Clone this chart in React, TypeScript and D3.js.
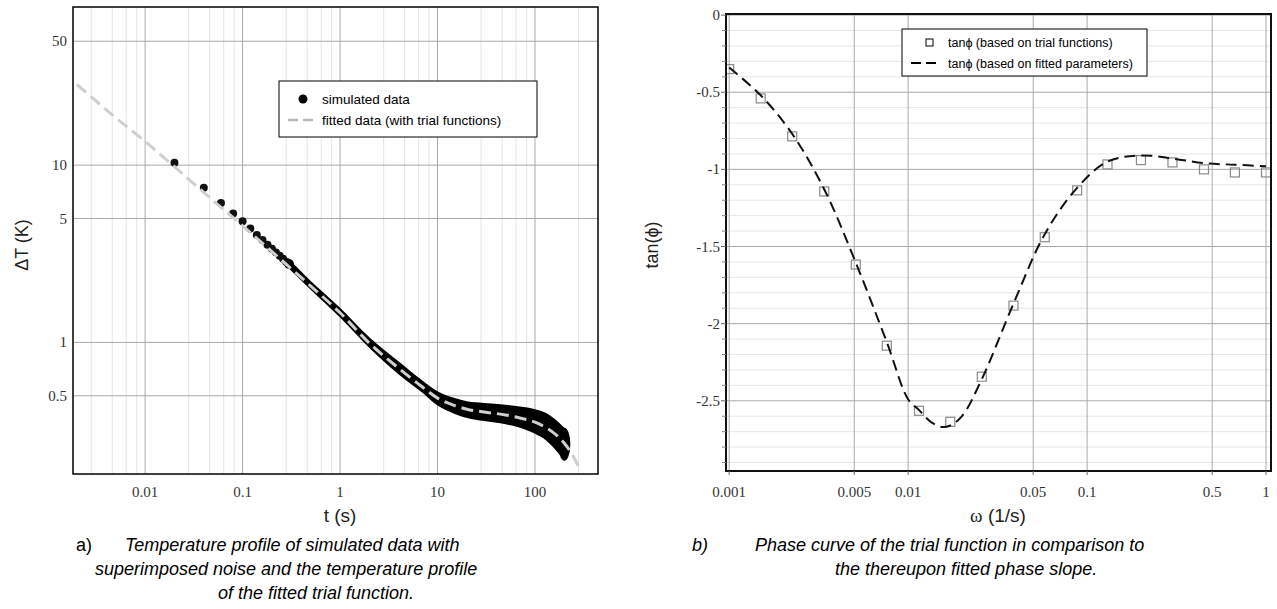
import React from 'react';
import * as d3 from 'd3';

// ---------- Left chart data (a) ----------
const simT = [0.02, 0.04, 0.06, 0.08, 0.1, 0.12, 0.14, 0.16, 0.18, 0.2, 0.22, 0.24, 0.26, 0.28];
const simDT = [10.3, 7.45, 6.12, 5.33, 4.83, 4.39, 4.04, 3.78, 3.56, 3.38, 3.22, 3.08, 2.96, 2.85];

const bandT = [0.3, 0.5, 1, 2, 4, 7, 10, 15, 20, 30, 50, 70, 100, 130, 160, 200];
const bandLower = [2.6, 1.98, 1.38, 0.93, 0.66, 0.52, 0.44, 0.395, 0.375, 0.36, 0.345, 0.33, 0.305, 0.28, 0.25, 0.215];
const bandUpper = [2.95, 2.22, 1.57, 1.07, 0.78, 0.61, 0.53, 0.485, 0.465, 0.455, 0.445, 0.435, 0.42, 0.4, 0.37, 0.33];

const fitT = [0.002, 0.005, 0.01, 0.02, 0.05, 0.1, 0.2, 0.5, 1, 2, 4, 7, 10, 15, 20, 30, 50, 70, 100, 130, 160, 200, 250, 290];
const fitDT = [28.5, 18.5, 13.6, 9.8, 6.3, 4.55, 3.25, 2.08, 1.47, 0.99, 0.715, 0.56, 0.485, 0.44, 0.42, 0.405, 0.39, 0.375, 0.355, 0.33, 0.305, 0.27, 0.225, 0.19];

const tTicks = [0.01, 0.1, 1, 10, 100];
const tTickLabels = ['0.01', '0.1', '1', '10', '100'];
const dtTicks = [0.5, 1, 5, 10, 50];
const dtTickLabels = ['0.5', '1', '5', '10', '50'];
const tDecades = [0.001, 0.01, 0.1, 1, 10, 100];
const tMinorMult = [2.8, 4.6, 6.4, 8.2];

// ---------- Right chart data (b) ----------
const omegaTrial = [0.001, 0.0015, 0.00225, 0.0034, 0.0051, 0.0076, 0.0115, 0.0172, 0.0258, 0.0388, 0.058, 0.088, 0.13, 0.2, 0.3, 0.45, 0.67, 1.0];
const tanTrial = [-0.35, -0.54, -0.786, -1.143, -1.617, -2.143, -2.565, -2.636, -2.344, -1.883, -1.44, -1.136, -0.968, -0.94, -0.955, -1.0, -1.02, -1.02];

const omegaFit = [0.001, 0.0015, 0.00225, 0.0034, 0.005, 0.0076, 0.01, 0.0115, 0.0135, 0.0155, 0.0172, 0.02, 0.0258, 0.0388, 0.058, 0.088, 0.13, 0.2, 0.3, 0.45, 0.67, 1.0];
const tanFit = [-0.34, -0.52, -0.77, -1.13, -1.58, -2.12, -2.49, -2.56, -2.64, -2.67, -2.66, -2.6, -2.36, -1.87, -1.42, -1.12, -0.95, -0.91, -0.93, -0.96, -0.97, -0.98];

const wTicks = [0.001, 0.005, 0.01, 0.05, 0.1, 0.5, 1];
const wTickLabels = ['0.001', '0.005', '0.01', '0.05', '0.1', '0.5', '1'];
const phiTicks = [0, -0.5, -1, -1.5, -2, -2.5];
const phiTickLabels = ['0', '-0.5', '-1', '-1.5', '-2', '-2.5'];
const phiMinor = [-0.1, -0.2, -0.3, -0.4, -0.6, -0.7, -0.8, -0.9, -1.1, -1.2, -1.3, -1.4, -1.6, -1.7, -1.8, -1.9, -2.1, -2.2, -2.3, -2.4, -2.6, -2.7, -2.8, -2.9];

const SANS = 'Liberation Sans, Arial, sans-serif';
const SERIF = 'Liberation Serif, Times New Roman, serif';

export default function App() {
  // Left scales
  const xL = d3.scaleLog().domain([0.00182, 443]).range([73, 598]);
  const yL = d3.scaleLog().domain([0.181, 78]).range([474, 7]);
  const [lx0, lx1] = xL.range();
  const [ly0, ly1] = yL.range();

  const minorT: number[] = [];
  tDecades.forEach((d) => tMinorMult.forEach((m) => {
    const v = d * m;
    if (v > 0.00182 && v < 443) minorT.push(v);
  }));

  const band = bandT.map((t, i) => ({ t, lo: bandLower[i], hi: bandUpper[i] }));
  const areaGen = d3.area<any>()
    .x((d) => xL(d.t))
    .y0((d) => yL(d.lo))
    .y1((d) => yL(d.hi))
    .curve(d3.curveMonotoneX);
  const fitData = fitT.map((t, i) => [t, fitDT[i]] as [number, number]);
  const fitLine = d3.line<[number, number]>()
    .x((d) => xL(d[0]))
    .y((d) => yL(d[1]))
    .curve(d3.curveMonotoneX);

  // Right scales
  const xR = d3.scaleLog().domain([0.00096, 1.066]).range([726, 1271]);
  const yR = d3.scaleLinear().domain([-2.955, 0.007]).range([471, 14]);
  const [rx0, rx1] = xR.range();
  const [ry0, ry1] = yR.range();
  const rFit = omegaFit.map((w, i) => [w, tanFit[i]] as [number, number]);
  const rLine = d3.line<[number, number]>()
    .x((d) => xR(d[0]))
    .y((d) => yR(d[1]))
    .curve(d3.curveCatmullRom.alpha(0.5));

  const firstBand = band[0];
  const lastBand = band[band.length - 1];

  return (
    <svg width={1277} height={609} style={{ position: 'absolute', left: 0, top: 0, background: '#fff' }}>
      {/* ================= LEFT CHART ================= */}
      <defs>
        <clipPath id="clipL">
          <rect x={lx0} y={ly1} width={lx1 - lx0} height={ly0 - ly1} />
        </clipPath>
        <clipPath id="clipR">
          <rect x={rx0} y={ry1} width={rx1 - rx0} height={ry0 - ry1} />
        </clipPath>
      </defs>
      <rect x={lx0} y={ly1} width={lx1 - lx0} height={ly0 - ly1} fill="#fff" />
      {minorT.map((v, i) => (
        <line key={'lm' + i} x1={xL(v)} x2={xL(v)} y1={ly1} y2={ly0} stroke="#e4e4e4" strokeWidth={1} />
      ))}
      {tTicks.map((v, i) => (
        <line key={'lM' + i} x1={xL(v)} x2={xL(v)} y1={ly1} y2={ly0} stroke="#aaaaaa" strokeWidth={1} />
      ))}
      {dtTicks.map((v, i) => (
        <line key={'lh' + i} x1={lx0} x2={lx1} y1={yL(v)} y2={yL(v)} stroke="#aaaaaa" strokeWidth={1} />
      ))}
      <g clipPath="url(#clipL)">
        <path d={areaGen(band) || ''} fill="#000" />
        <circle cx={xL(firstBand.t)} cy={(yL(firstBand.lo) + yL(firstBand.hi)) / 2} r={(yL(firstBand.lo) - yL(firstBand.hi)) / 2} fill="#000" />
        <ellipse cx={xL(lastBand.t)} cy={(yL(lastBand.lo) + yL(lastBand.hi)) / 2} rx={6} ry={(yL(lastBand.lo) - yL(lastBand.hi)) / 2} fill="#000" />
        {simT.map((t, i) => (
          <circle key={'sd' + i} cx={xL(t)} cy={yL(simDT[i])} r={4} fill="#111" />
        ))}
        <path d={fitLine(fitData) || ''} fill="none" stroke="#cfcfcf" strokeWidth={3} strokeDasharray="12 6" />
      </g>
      <rect x={lx0} y={ly1} width={lx1 - lx0} height={ly0 - ly1} fill="none" stroke="#000" strokeWidth={1.5} />
      {tTicks.map((v, i) => (
        <text key={'lxt' + i} x={xL(v)} y={497} textAnchor="middle" fontFamily={SERIF} fontSize={15} fill="#333">{tTickLabels[i]}</text>
      ))}
      {dtTicks.map((v, i) => (
        <text key={'lyt' + i} x={67} y={yL(v) + 5} textAnchor="end" fontFamily={SERIF} fontSize={15} fill="#333">{dtTickLabels[i]}</text>
      ))}
      <text x={340} y={522} textAnchor="middle" fontFamily={SANS} fontSize={19} fill="#222">t (s)</text>
      <text transform="translate(28,245) rotate(-90)" textAnchor="middle" fontFamily={SANS} fontSize={18} fill="#222">ΔT (K)</text>

      {/* left legend */}
      <rect x={279} y={81} width={258} height={56} fill="#fff" stroke="#000" strokeWidth={1} />
      <circle cx={303} cy={99} r={4.5} fill="#000" />
      <text x={322} y={104} fontFamily={SANS} fontSize={13.5} fill="#000">simulated data</text>
      <line x1={288} x2={316} y1={120} y2={120} stroke="#b8b8b8" strokeWidth={2.5} strokeDasharray="10 5" />
      <text x={322} y={125} fontFamily={SANS} fontSize={13.5} fill="#000">fitted data (with trial functions)</text>

      {/* caption a */}
      <text x={76} y={551} fontFamily={SANS} fontSize={18} fill="#000">a)</text>
      <text x={125} y={551} fontFamily={SANS} fontSize={18} fontStyle="italic" fill="#000">Temperature profile of simulated data with</text>
      <text x={95} y={575} fontFamily={SANS} fontSize={18} fontStyle="italic" fill="#000">superimposed noise and the temperature profile</text>
      <text x={218} y={599} fontFamily={SANS} fontSize={18} fontStyle="italic" fill="#000">of the fitted trial function.</text>

      {/* ================= RIGHT CHART ================= */}
      <rect x={rx0} y={ry1} width={rx1 - rx0} height={ry0 - ry1} fill="#fff" />
      {phiMinor.map((v, i) => (
        <line key={'rm' + i} x1={rx0} x2={rx1} y1={yR(v)} y2={yR(v)} stroke="#e6e6e6" strokeWidth={1} />
      ))}
      {phiTicks.map((v, i) => (
        <line key={'rM' + i} x1={rx0} x2={rx1} y1={yR(v)} y2={yR(v)} stroke="#aaaaaa" strokeWidth={1} />
      ))}
      {wTicks.map((v, i) => (
        <line key={'rv' + i} x1={xR(v)} x2={xR(v)} y1={ry1} y2={ry0} stroke="#aaaaaa" strokeWidth={1} />
      ))}
      <g clipPath="url(#clipR)">
        {omegaTrial.map((w, i) => (
          <rect key={'sq' + i} x={xR(w) - 4.5} y={yR(tanTrial[i]) - 4.5} width={9} height={9} fill="none" stroke="#8a8a8a" strokeWidth={1.2} />
        ))}
        <path d={rLine(rFit) || ''} fill="none" stroke="#111" strokeWidth={2} strokeDasharray="11 6" />
      </g>
      <rect x={rx0} y={ry1} width={rx1 - rx0} height={ry0 - ry1} fill="none" stroke="#111" strokeWidth={2} />
      {phiMinor.map((v, i) => (
        <line key={'rmt' + i} x1={rx0 - 4} x2={rx0} y1={yR(v)} y2={yR(v)} stroke="#888" strokeWidth={1} />
      ))}
      {phiTicks.map((v, i) => (
        <line key={'rMt' + i} x1={rx0 - 5} x2={rx0} y1={yR(v)} y2={yR(v)} stroke="#666" strokeWidth={1} />
      ))}
      {wTicks.map((v, i) => (
        <line key={'rxt' + i} x1={xR(v)} x2={xR(v)} y1={ry0} y2={ry0 + 4} stroke="#666" strokeWidth={1} />
      ))}
      {wTicks.map((v, i) => (
        <text key={'rxl' + i} x={xR(v)} y={497} textAnchor="middle" fontFamily={SERIF} fontSize={15} fill="#333">{wTickLabels[i]}</text>
      ))}
      {phiTicks.map((v, i) => (
        <text key={'ryl' + i} x={720} y={yR(v) + 5} textAnchor="end" fontFamily={SERIF} fontSize={15} fill="#333">{phiTickLabels[i]}</text>
      ))}
      <text x={998} y={522} textAnchor="middle" fontFamily={SANS} fontSize={19} fill="#222">
        <tspan fontFamily={SERIF}>ω</tspan> (1/s)
      </text>
      <text transform="translate(658,245) rotate(-90)" textAnchor="middle" fontFamily={SANS} fontSize={18} fill="#222">tan(ϕ)</text>

      {/* right legend */}
      <rect x={902} y={29} width={245} height={47} fill="#fff" stroke="#000" strokeWidth={1} />
      <rect x={926} y={39} width={7} height={7} fill="#fff" stroke="#000" strokeWidth={1} />
      <text x={948} y={47} fontFamily={SANS} fontSize={12.5} fill="#000">tanϕ (based on trial functions)</text>
      <line x1={911} x2={939} y1={63} y2={63} stroke="#000" strokeWidth={2} strokeDasharray="10 5" />
      <text x={948} y={68} fontFamily={SANS} fontSize={12.5} fill="#000">tanϕ (based on fitted parameters)</text>

      {/* caption b */}
      <text x={692} y={551} fontFamily={SANS} fontSize={18} fontStyle="italic" fill="#000">b)</text>
      <text x={755} y={551} fontFamily={SANS} fontSize={18} fontStyle="italic" fill="#000">Phase curve of the trial function in comparison to</text>
      <text x={835} y={575} fontFamily={SANS} fontSize={18} fontStyle="italic" fill="#000">the thereupon fitted phase slope.</text>
    </svg>
  );
}
